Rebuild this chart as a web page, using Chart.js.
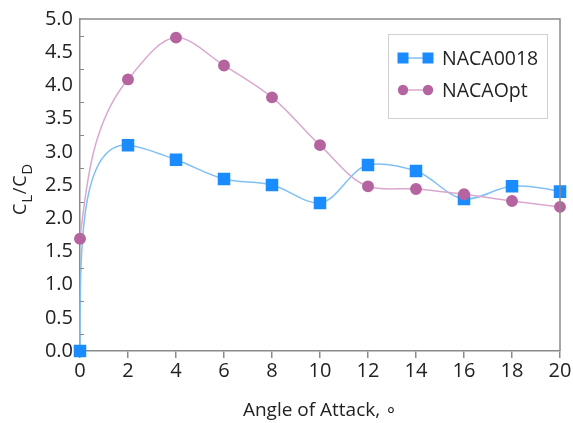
<!DOCTYPE html>
<html><head><meta charset="utf-8">
<script src="https://cdn.jsdelivr.net/npm/chart.js@4/dist/chart.umd.min.js"></script>
<style>html,body{margin:0;padding:0;background:#fff;}#wrap{width:573px;height:423px;}</style>
</head><body><div id="wrap"><canvas id="c" width="573" height="423"></canvas></div>
<script>
const angles = [0, 2, 4, 6, 8, 10, 12, 14, 16, 18, 20];
const naca0018 = [0.00, 3.10, 2.88, 2.59, 2.50, 2.23, 2.80, 2.71, 2.29, 2.48, 2.40];
const nacaOpt = [1.69, 4.09, 4.72, 4.30, 3.82, 3.10, 2.48, 2.44, 2.36, 2.26, 2.17];
const seriesNames = ['NACA0018', 'NACAOpt'];
const xTitle = 'Angle of Attack, \u2218';

const FONT = '"Open Sans", sans-serif';
const BLUE = '#1a8cff', BLUE_LINE = '#80c0f4';
const PINK = '#b5649f', PINK_LINE = '#d9a8cf';
const AXIS = '#8a8a8a';

// smooth curve: chord-length parametric spline (Bessel tangents, natural ends)
const chordSpline = {
  id: 'chordSpline',
  beforeDatasetsDraw(chart) {
    const area = chart.chartArea;
    chart.data.datasets.forEach((ds, di) => {
      const meta = chart.getDatasetMeta(di);
      const line = meta.dataset;
      if (line && line.updateControlPoints) line.updateControlPoints(area, 'x');
      const p = meta.data, n = p.length;
      if (n < 3) return;
      const t = [0];
      for (let i = 1; i < n; i++) t.push(t[i - 1] + Math.hypot(p[i].x - p[i - 1].x, p[i].y - p[i - 1].y));
      const m = [];
      for (let i = 1; i < n - 1; i++) {
        const h0 = t[i] - t[i - 1], h1 = t[i + 1] - t[i];
        const w0 = h1 / (h0 + h1), w1 = h0 / (h0 + h1);
        m[i] = {
          x: w0 * (p[i].x - p[i - 1].x) / h0 + w1 * (p[i + 1].x - p[i].x) / h1,
          y: w0 * (p[i].y - p[i - 1].y) / h0 + w1 * (p[i + 1].y - p[i].y) / h1
        };
      }
      let h = t[1] - t[0];
      m[0] = {x: 1.5 * (p[1].x - p[0].x) / h - m[1].x / 2, y: 1.5 * (p[1].y - p[0].y) / h - m[1].y / 2};
      h = t[n - 1] - t[n - 2];
      m[n - 1] = {x: 1.5 * (p[n - 1].x - p[n - 2].x) / h - m[n - 2].x / 2, y: 1.5 * (p[n - 1].y - p[n - 2].y) / h - m[n - 2].y / 2};
      const cx = v => Math.min(Math.max(v, area.left), area.right);
      const cy = v => Math.min(Math.max(v, area.top), area.bottom);
      for (let i = 0; i < n; i++) {
        const hp = i > 0 ? t[i] - t[i - 1] : 0, hn = i < n - 1 ? t[i + 1] - t[i] : 0;
        p[i].cp1x = cx(p[i].x - m[i].x * hp / 3);
        p[i].cp1y = cy(p[i].y - m[i].y * hp / 3);
        p[i].cp2x = cx(p[i].x + m[i].x * hn / 3);
        p[i].cp2y = cy(p[i].y + m[i].y * hn / 3);
      }
      if (line) { line._pointsUpdated = true; line._path = undefined; }
    });
  }
};

const extras = {
  id: 'extras',
  afterDraw(chart) {
    const ctx = chart.ctx, a = chart.chartArea, y = chart.scales.y;
    ctx.save();
    ctx.strokeStyle = AXIS; ctx.lineWidth = 1.5;
    ctx.beginPath();
    ctx.moveTo(a.left, a.top); ctx.lineTo(a.right, a.top); ctx.lineTo(a.right, a.bottom);
    ctx.stroke();
    ctx.lineWidth = 1;
    for (let v = 0.25; v < 5; v += 0.5) {
      const py = Math.round(y.getPixelForValue(v)) + 0.5;
      ctx.beginPath(); ctx.moveTo(a.left, py); ctx.lineTo(a.left + 4, py); ctx.stroke();
    }
    // y title with subscripts
    ctx.fillStyle = '#222';
    ctx.translate(25.5, 189);
    ctx.rotate(-Math.PI / 2);
    const parts = [['C', 18, 0], ['L', 15, 6], ['/', 18, 0], ['C', 18, 0], ['D', 15, 6]];
    let w = 0;
    parts.forEach(q => { ctx.font = q[1] + 'px ' + FONT; w += ctx.measureText(q[0]).width + 0.8; });
    let x = -w / 2;
    ctx.textBaseline = 'alphabetic';
    parts.forEach(q => { ctx.font = q[1] + 'px ' + FONT; ctx.fillText(q[0], x, q[2]); x += ctx.measureText(q[0]).width + 0.8; });
    ctx.restore();
    // legend
    ctx.save();
    const lx = 388, ly = 34, lw = 159, lh = 84;
    ctx.fillStyle = '#fff'; ctx.fillRect(lx, ly, lw, lh);
    ctx.strokeStyle = '#d0d0d0'; ctx.lineWidth = 1;
    ctx.strokeRect(lx + 0.5, ly + 0.5, lw, lh);
    const items = [
      {name: seriesNames[0], col: BLUE, line: BLUE_LINE, sq: true, yy: 58},
      {name: seriesNames[1], col: PINK, line: PINK_LINE, sq: false, yy: 90}
    ];
    items.forEach(it => {
      ctx.strokeStyle = it.line; ctx.lineWidth = 1.5;
      ctx.beginPath(); ctx.moveTo(403, it.yy); ctx.lineTo(428, it.yy); ctx.stroke();
      ctx.fillStyle = it.col;
      [403, 428].forEach(px => {
        if (it.sq) ctx.fillRect(px - 5.5, it.yy - 5.5, 11, 11);
        else { ctx.beginPath(); ctx.arc(px, it.yy, 5.2, 0, Math.PI * 2); ctx.fill(); }
      });
      ctx.fillStyle = '#222'; ctx.font = '19.5px ' + FONT; ctx.textBaseline = 'middle';
      ctx.fillText(it.name, 442, it.yy + 1);
    });
    ctx.restore();
  }
};

new Chart(document.getElementById('c'), {
  type: 'line',
  data: {
    labels: angles,
    datasets: [
      {label: seriesNames[0], data: angles.map((a, i) => ({x: a, y: naca0018[i]})),
       borderColor: BLUE_LINE, backgroundColor: BLUE, pointBackgroundColor: BLUE, pointBorderColor: BLUE,
       pointStyle: 'rect', pointRadius: 7.8, borderWidth: 1.5, tension: 0.4, clip: false, order: 1},
      {label: seriesNames[1], data: angles.map((a, i) => ({x: a, y: nacaOpt[i]})),
       borderColor: PINK_LINE, backgroundColor: PINK, pointBackgroundColor: PINK, pointBorderColor: PINK,
       pointStyle: 'circle', pointRadius: 5.2, borderWidth: 1.5, tension: 0.4, clip: false, order: 0}
    ]
  },
  options: {
    responsive: false, animation: false,
    layout: {padding: {left: 0, right: 13, top: 17, bottom: 0}},
    plugins: {legend: {display: false}, tooltip: {enabled: false}},
    scales: {
      x: {type: 'linear', min: 0, max: 20,
          ticks: {stepSize: 2, color: '#222', font: {family: FONT, size: 20}, padding: 1},
          grid: {drawOnChartArea: false, drawTicks: true, tickLength: 7, color: AXIS, lineWidth: 1.5},
          border: {color: AXIS, width: 1.5},
          title: {display: true, text: xTitle, color: '#222', font: {family: FONT, size: 19}, padding: {top: 0, bottom: 1}},
          afterFit: s => { s.height = 72; }},
      y: {min: 0, max: 5,
          ticks: {stepSize: 0.5, color: '#222', font: {family: FONT, size: 20}, padding: 7, callback: v => v.toFixed(1)},
          grid: {drawOnChartArea: false, drawTicks: false},
          border: {color: AXIS, width: 1.5},
          afterFit: s => { s.width = 80; }}
    }
  },
  plugins: [chordSpline, extras]
});
</script></body></html>
